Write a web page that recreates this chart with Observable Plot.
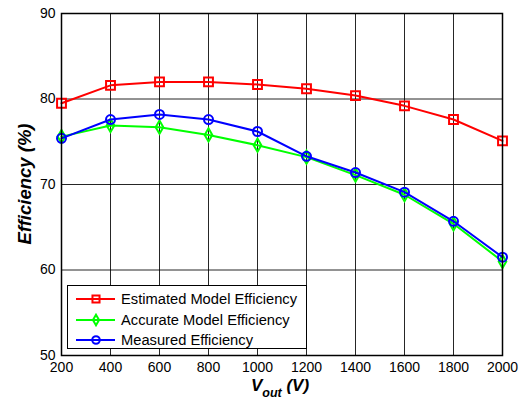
<!DOCTYPE html>
<html>
<head>
<meta charset="utf-8">
<script src="https://cdn.jsdelivr.net/npm/d3@7"></script>
<script src="https://cdn.jsdelivr.net/npm/@observablehq/plot@0.6"></script>
<style>
  html, body { margin: 0; padding: 0; background: #fff; }
  #wrap { position: relative; width: 532px; height: 403px; }
  #legend {
    position: absolute; left: 67px; top: 285px; width: 240px; height: 64px;
    border: 1px solid #000; background: #fff; box-sizing: border-box;
    font-family: "Liberation Sans", Arial, sans-serif; font-size: 14.7px; color: #000;
    padding-top: 3px;
  }
  .row { display: flex; align-items: center; height: 20.5px; }
  .row svg { margin-left: 8px; margin-right: 6px; }
</style>
</head>
<body>
<div id="wrap"></div>
<script>
const vout = [200, 400, 600, 800, 1000, 1200, 1400, 1600, 1800, 2000];
const estimated = [79.5, 81.6, 82.0, 82.0, 81.7, 81.2, 80.4, 79.2, 77.6, 75.1];
const accurate  = [75.6, 76.9, 76.7, 75.8, 74.6, 73.2, 71.1, 68.8, 65.4, 61.0];
const measured  = [75.4, 77.6, 78.2, 77.6, 76.2, 73.3, 71.4, 69.1, 65.7, 61.5];
const xTicks = [200, 400, 600, 800, 1000, 1200, 1400, 1600, 1800, 2000];
const yTicks = [50, 60, 70, 80, 90];
const seriesNames = ["Estimated Model Efficiency", "Accurate Model Efficiency", "Measured Efficiency"];
const seriesColors = ["#ff0000", "#00ff00", "#0000ff"];
const seriesSymbols = ["square", "diamond", "circle"];
const seriesValues = [estimated, accurate, measured];

const data = [];
seriesValues.forEach((vals, s) => vals.forEach((v, i) => data.push({series: seriesNames[s], x: vout[i], y: v, s})));

const marks = [
  Plot.gridX(xTicks, {stroke: "#000", strokeOpacity: 0.85, strokeWidth: 1}),
  Plot.gridY(yTicks, {stroke: "#000", strokeOpacity: 0.85, strokeWidth: 1})
];
seriesNames.forEach((name, s) => {
  const d = data.filter(e => e.s === s);
  marks.push(Plot.line(d, {x: "x", y: "y", stroke: seriesColors[s], strokeWidth: 2}));
  marks.push(Plot.dot(d, {x: "x", y: "y", stroke: seriesColors[s], symbol: () => seriesSymbols[s],
    r: s === 0 ? 5 : (s === 1 ? 4 : 4.5), fill: "none", strokeWidth: 2}));
});
marks.push(Plot.frame({stroke: "#000", strokeWidth: 1.5}));

const chart = Plot.plot({
  width: 532, height: 403,
  marginLeft: 61, marginRight: 30, marginTop: 13, marginBottom: 48,
  style: {fontFamily: "'Liberation Sans', Arial, sans-serif", fontSize: "14px", color: "#000", background: "#fff"},
  x: {domain: [200, 2000], ticks: xTicks, tickSize: 0, tickPadding: 7, label: null, tickFormat: d => String(d)},
  y: {domain: [50, 90], ticks: yTicks, tickSize: 0, tickPadding: 6, label: null},
  marks
});
document.getElementById("wrap").appendChild(chart);

const svg = d3.select(chart);
svg.append("text")
  .attr("transform", "translate(26,184) rotate(-90)")
  .attr("text-anchor", "middle").attr("dominant-baseline", "middle")
  .style("font", "italic bold 18.5px 'Liberation Sans', Arial, sans-serif")
  .text("Efficiency (%)");
const xl = svg.append("text")
  .attr("x", 280).attr("y", 391)
  .attr("text-anchor", "middle")
  .style("font", "italic bold 17px 'Liberation Sans', Arial, sans-serif");
xl.append("tspan").text("V");
xl.append("tspan").attr("dy", 6).style("font-size", "12.5px").text("out");
xl.append("tspan").attr("dy", -6).text(" (V)");

// legend
const legend = document.createElement("div");
legend.id = "legend";
seriesNames.forEach((name, s) => {
  const row = document.createElement("div");
  row.className = "row";
  const sym = d3.symbol(s === 0 ? d3.symbolSquare : s === 1 ? d3.symbolDiamond : d3.symbolCircle,
                        s === 0 ? 50 : (s === 1 ? 32 : 45))();
  row.innerHTML = `<svg width="39" height="14"><line x1="0" x2="39" y1="7" y2="7" stroke="${seriesColors[s]}" stroke-width="2"/>` +
    `<path d="${sym}" transform="translate(20,7)" fill="none" stroke="${seriesColors[s]}" stroke-width="2"/></svg><span>${name}</span>`;
  legend.appendChild(row);
});
document.getElementById("wrap").appendChild(legend);
</script>
</body>
</html>
